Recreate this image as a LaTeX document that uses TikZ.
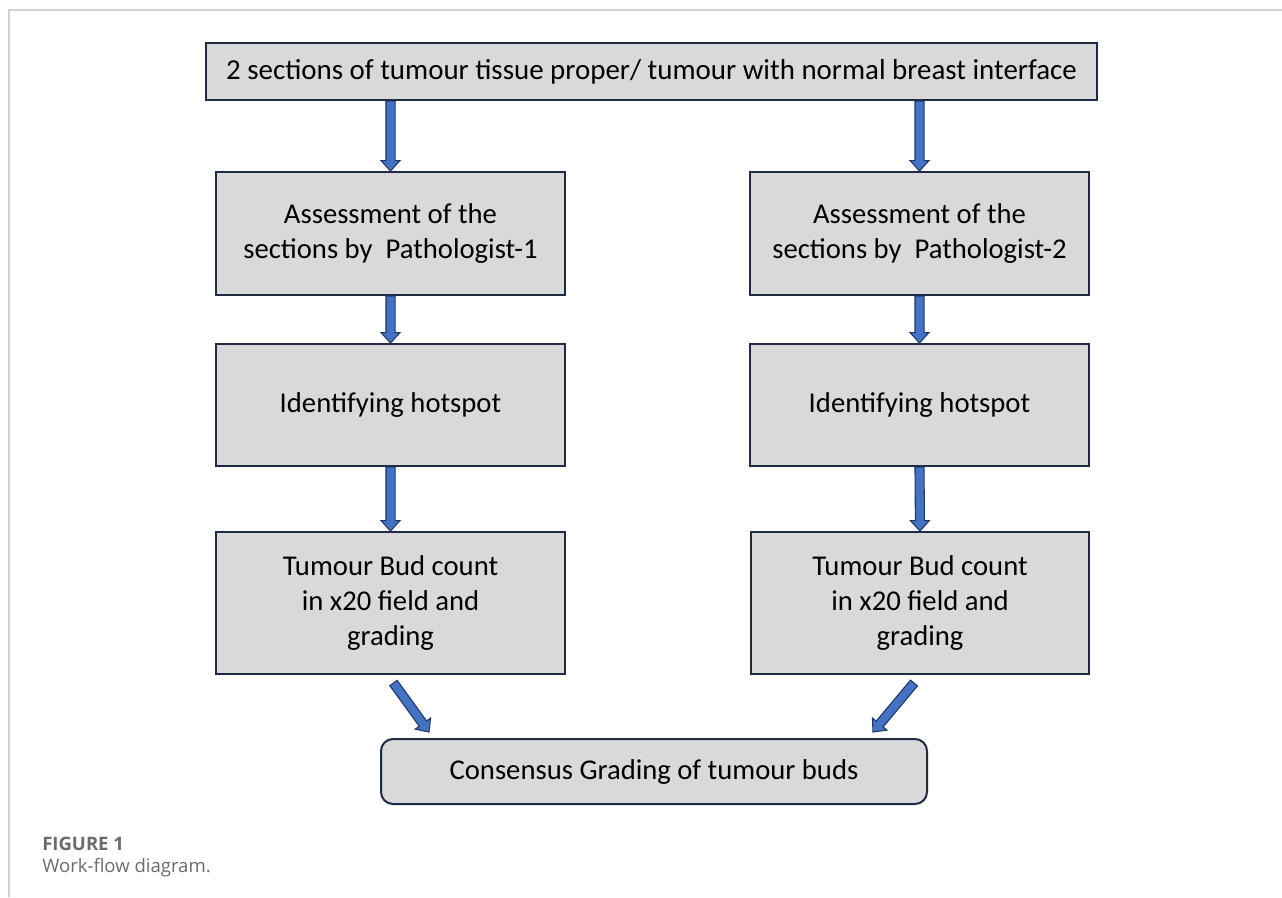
\documentclass[tikz,border=0pt]{standalone}
\usepackage{fontspec}
\setmainfont{Carlito}
\newfontfamily\capfont{Open Sans}
\usetikzlibrary{calc}
\definecolor{boxfill}{HTML}{D9D9D9}
\definecolor{boxline}{HTML}{1F2B45}
\definecolor{arrowblue}{HTML}{4472C4}
\definecolor{arrowline}{HTML}{203864}
\definecolor{framegray}{HTML}{D0D0D0}
\definecolor{capgray}{HTML}{6B6B6B}
\newcommand\blockarr[2]{%
  \coordinate (hb) at ($(#2)!7.8pt!(#1)$);
  \draw[barrow] ($(#1)!3.4pt!90:(#2)$) -- ($(hb)!3.4pt!90:(#2)$) -- ($(hb)!7.1pt!90:(#2)$) -- (#2)
    -- ($(hb)!7.1pt!-90:(#2)$) -- ($(hb)!3.4pt!-90:(#2)$) -- ($(#1)!3.4pt!-90:(#2)$) -- cycle;}
\begin{document}
\begin{tikzpicture}[x=0.75pt,y=-0.75pt,
  box/.style={draw=boxline,line width=1.5pt,fill=boxfill,inner sep=0pt,align=center,
    font=\fontsize{21.5}{26.25}\selectfont},
  barrow/.style={draw=arrowline,line width=0.8pt,fill=arrowblue,line join=miter},
  captext/.style={anchor=base west,inner sep=0pt,text=capgray,font=\capfont\fontsize{13.9}{16}\selectfont}]
\useasboundingbox (0,0) rectangle (1282,897);
\draw[framegray,line width=1pt] (1282,10) -- (9,10) -- (9,897);
\node[box,minimum width=891*0.75pt,minimum height=57*0.75pt,font=\fontsize{21.7}{26.25}\selectfont] (top) at (651.5,71.5)
  {2 sections of tumour tissue proper/ tumour with normal breast interface};
\node[box,minimum width=349*0.75pt,minimum height=123*0.75pt] (a1) at (390.5,233.5)
  {Assessment of the\\sections by\ \ Pathologist-1};
\node[box,minimum width=339*0.75pt,minimum height=123*0.75pt] (a2) at (919.5,233.5)
  {Assessment of the\\sections by\ \ Pathologist-2};
\node[box,minimum width=349*0.75pt,minimum height=122*0.75pt] (h1) at (390.5,405)
  {Identifying hotspot};
\node[box,minimum width=339*0.75pt,minimum height=122*0.75pt] (h2) at (919.5,405)
  {Identifying hotspot};
\node[box,minimum width=349*0.75pt,minimum height=142*0.75pt] (b1) at (390.5,603)
  {Tumour Bud count\\in x20 field and\\grading};
\node[box,minimum width=338*0.75pt,minimum height=142*0.75pt] (b2) at (920,603)
  {Tumour Bud count\\in x20 field and\\grading};
\node[box,rounded corners=9pt,minimum width=546*0.75pt,minimum height=65*0.75pt] (cons) at (654,771.5)
  {Consensus Grading of tumour buds};
\coordinate (t1) at (a1.north |- top.south);
\coordinate (t2) at (a2.north |- top.south);
\blockarr{t1}{a1.north}
\blockarr{t2}{a2.north}
\blockarr{a1.south}{h1.north}
\blockarr{a2.south}{h2.north}
\blockarr{h1.south}{b1.north}
\blockarr{h2.south}{b2.north}
\coordinate (d1s) at ($(b1.south)+(3,8)$);
\coordinate (d1e) at ($(cons.north west)+(49,-6)$);
\coordinate (d2s) at ($(b2.south)+(-6,8)$);
\coordinate (d2e) at ($(cons.north east)+(-55,-6)$);
\blockarr{d1s}{d1e}
\blockarr{d2s}{d2e}
\node[captext,font=\capfont\bfseries\fontsize{13.9}{16}\selectfont] (fig) at (42,850) {FIGURE 1};
\node[captext] (capt) at (42,872) {Work-flow diagram.};
\end{tikzpicture}
\end{document}
